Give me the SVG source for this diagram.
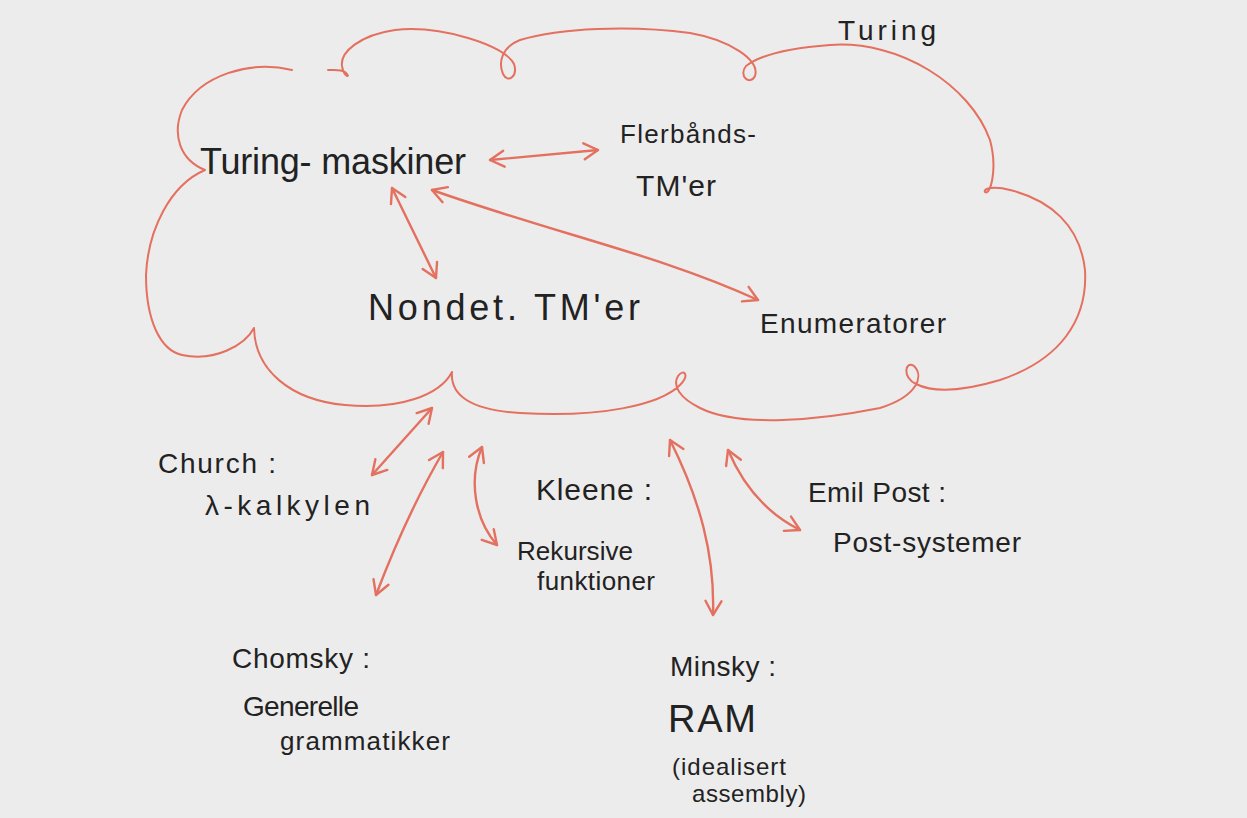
<svg xmlns="http://www.w3.org/2000/svg" width="1247" height="818" viewBox="0 0 1247 818">
<style>
.cloud{fill:none;stroke:#e4705f;stroke-width:2;stroke-linecap:round;stroke-linejoin:round}
.c{fill:none;stroke:#e4705f;stroke-width:2.4;stroke-linecap:round;marker-start:url(#ah);marker-end:url(#ah)}
text{font-family:"Liberation Sans","DejaVu Sans",sans-serif;fill:#222;lengthAdjust:spacingAndGlyphs}
</style>
<defs>
<marker id="ah" viewBox="0 0 20 20" refX="17" refY="10" markerWidth="20" markerHeight="20" markerUnits="userSpaceOnUse" orient="auto-start-reverse">
<path d="M3 2 L17 10 L3 18" fill="none" stroke="#e4705f" stroke-width="2.4" stroke-linecap="round" stroke-linejoin="round"/>
</marker>
</defs>
<rect width="1247" height="818" fill="#ececec"/>
<g id="cloud">
<path class="cloud" d="M292 70 C250 60 200 75 182 110 C172 135 180 160 205 170 C170 185 148 230 146 275 C146 320 160 350 182 355 C215 362 245 345 254 328 C255 370 290 400 345 405 C400 410 440 395 452 372 C450 395 470 410 520 413 C600 418 660 405 680 385 C690 375 684 368 678 376 C672 386 680 398 700 408 C740 428 820 420 880 408 C918 396 924 376 914 366 C905 360 902 378 916 384 C932 392 960 392 1000 380 C1060 360 1088 320 1085 270 C1080 225 1050 200 1010 190 C995 186 983 188 985 192 C990 196 998 170 990 140 C970 85 900 40 830 45 C790 48 760 55 746 66 C738 76 750 86 755 76 C760 60 730 40 690 33 C630 25 560 28 520 40 C502 47 498 62 503 74 C508 84 518 76 514 64 C505 45 440 25 395 30 C360 35 340 52 342 66 C344 78 352 78 345 72 C340 69 335 70 328 70"/>
</g>
<g id="connectors">
<path class="c" d="M490 160 L598 150"/>
<path class="c" d="M392 188 L436 278"/>
<path class="c" d="M432 190 C560 235 660 255 758 300"/>
<path class="c" d="M432 408 L372 475"/>
<path class="c" d="M443 452 C415 500 395 545 376 595"/>
<path class="c" d="M482 447 C468 480 475 520 497 545"/>
<path class="c" d="M670 440 C700 500 715 555 713 615"/>
<path class="c" d="M728 450 C745 490 770 515 800 530"/>
</g>
<g id="turing-label"><text x="838" y="40" font-size="28" textLength="98">Turing</text></g>
<g id="turing-maskiner"><text x="200" y="174" font-size="36" textLength="266">Turing- maskiner</text></g>
<g id="flerbands"><text x="620" y="143" font-size="26" textLength="136">Flerbånds-</text><text x="636" y="196" font-size="30" textLength="80">TM'er</text></g>
<g id="nondet"><text x="368" y="320" font-size="36" textLength="272">Nondet. TM'er</text></g>
<g id="enumeratorer"><text x="760" y="333" font-size="28" textLength="186">Enumeratorer</text></g>
<g id="church"><text x="158" y="473" font-size="28" textLength="118">Church :</text><text x="205" y="515" font-size="28" textLength="165">λ-kalkylen</text></g>
<g id="kleene"><text x="536" y="500" font-size="30" textLength="116">Kleene :</text><text x="517" y="560" font-size="26" textLength="116">Rekursive</text><text x="537" y="590" font-size="26" textLength="118">funktioner</text></g>
<g id="post"><text x="808" y="502" font-size="28" textLength="138">Emil Post :</text><text x="833" y="552" font-size="28" textLength="188">Post-systemer</text></g>
<g id="chomsky"><text x="232" y="668" font-size="28" textLength="138">Chomsky :</text><text x="243" y="716" font-size="28" textLength="116">Generelle</text><text x="280" y="750" font-size="26" textLength="170">grammatikker</text></g>
<g id="minsky"><text x="670" y="676" font-size="28" textLength="106">Minsky :</text><text x="668" y="732" font-size="38" textLength="88">RAM</text><text x="672" y="775" font-size="24" textLength="114">(idealisert</text><text x="692" y="802" font-size="24" textLength="114">assembly)</text></g>
</svg>
